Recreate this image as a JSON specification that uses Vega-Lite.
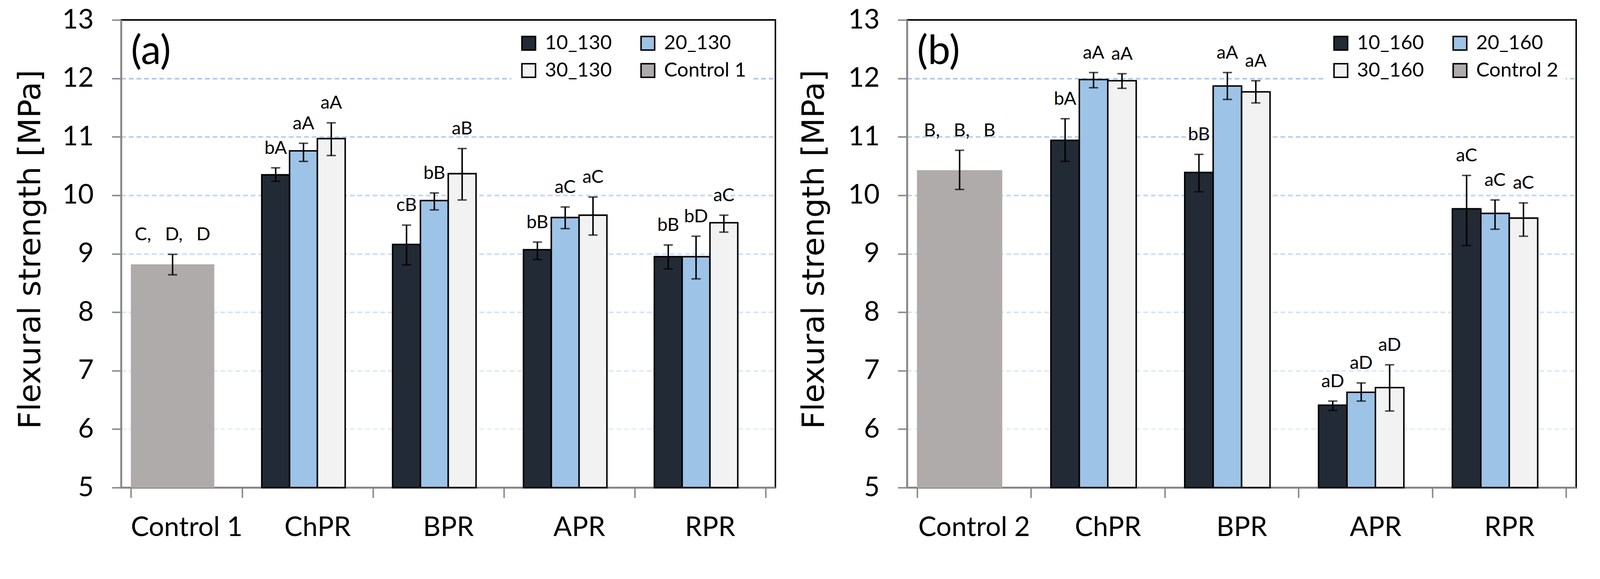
{
  "$schema": "https://vega.github.io/schema/vega-lite/v6.json",
  "background": "white",
  "padding": {"left": 37, "top": 14, "right": 0, "bottom": 0},
  "config": {
    "view": {"stroke": "#000000", "strokeWidth": 3.8},
    "font": "Lato"
  },
  "datasets": {
    "a": [
      {"g": "Control 1", "s": "Control 1", "v": 8.82, "lo": 8.64, "hi": 8.99, "lab": "C,\u2003D,\u2003D"},
      {"g": "ChPR", "s": "10_130", "v": 10.35, "lo": 10.24, "hi": 10.47, "lab": "bA"},
      {"g": "ChPR", "s": "20_130", "v": 10.76, "lo": 10.58, "hi": 10.89, "lab": "aA"},
      {"g": "ChPR", "s": "30_130", "v": 10.97, "lo": 10.68, "hi": 11.24, "lab": "aA"},
      {"g": "BPR", "s": "10_130", "v": 9.16, "lo": 8.81, "hi": 9.49, "lab": "cB"},
      {"g": "BPR", "s": "20_130", "v": 9.91, "lo": 9.75, "hi": 10.04, "lab": "bB"},
      {"g": "BPR", "s": "30_130", "v": 10.37, "lo": 9.92, "hi": 10.80, "lab": "aB"},
      {"g": "APR", "s": "10_130", "v": 9.07, "lo": 8.90, "hi": 9.20, "lab": "bB"},
      {"g": "APR", "s": "20_130", "v": 9.62, "lo": 9.43, "hi": 9.80, "lab": "aC"},
      {"g": "APR", "s": "30_130", "v": 9.66, "lo": 9.32, "hi": 9.97, "lab": "aC"},
      {"g": "RPR", "s": "10_130", "v": 8.95, "lo": 8.74, "hi": 9.15, "lab": "bB"},
      {"g": "RPR", "s": "20_130", "v": 8.95, "lo": 8.57, "hi": 9.30, "lab": "bD"},
      {"g": "RPR", "s": "30_130", "v": 9.53, "lo": 9.37, "hi": 9.66, "lab": "aC"}
    ],
    "b": [
      {"g": "Control 2", "s": "Control 2", "v": 10.43, "lo": 10.10, "hi": 10.77, "lab": "B,\u2003B,\u2003B"},
      {"g": "ChPR", "s": "10_160", "v": 10.94, "lo": 10.58, "hi": 11.31, "lab": "bA"},
      {"g": "ChPR", "s": "20_160", "v": 11.98, "lo": 11.84, "hi": 12.10, "lab": "aA"},
      {"g": "ChPR", "s": "30_160", "v": 11.96, "lo": 11.83, "hi": 12.08, "lab": "aA"},
      {"g": "BPR", "s": "10_160", "v": 10.39, "lo": 10.06, "hi": 10.70, "lab": "bB"},
      {"g": "BPR", "s": "20_160", "v": 11.87, "lo": 11.64, "hi": 12.10, "lab": "aA"},
      {"g": "BPR", "s": "30_160", "v": 11.77, "lo": 11.58, "hi": 11.96, "lab": "aA"},
      {"g": "APR", "s": "10_160", "v": 6.41, "lo": 6.32, "hi": 6.48, "lab": "aD"},
      {"g": "APR", "s": "20_160", "v": 6.63, "lo": 6.48, "hi": 6.79, "lab": "aD"},
      {"g": "APR", "s": "30_160", "v": 6.71, "lo": 6.31, "hi": 7.10, "lab": "aD"},
      {"g": "RPR", "s": "10_160", "v": 9.77, "lo": 9.14, "hi": 10.34, "lab": "aC"},
      {"g": "RPR", "s": "20_160", "v": 9.69, "lo": 9.42, "hi": 9.92, "lab": "aC"},
      {"g": "RPR", "s": "30_160", "v": 9.61, "lo": 9.30, "hi": 9.87, "lab": "aC"}
    ]
  },
  "spacing": 56,
  "resolve": {"scale": {"fill": "independent", "xOffset": "independent", "x": "independent", "y": "independent"}, "legend": {"fill": "independent"}},
  "hconcat": [
    {
      "width": 1675,
      "height": 1197,
      "data": {"name": "a"},
      "encoding": {
        "x": {"field": "g", "type": "nominal", "sort": ["Control 1", "ChPR", "BPR", "APR", "RPR"], "scale": {"paddingInner": 0.15, "paddingOuter": 0.075}, "title": null,
          "axis": {"labelAngle": 0, "labelFont": "Lato", "labelFontSize": 69.5, "labelColor": "#000000", "labelLimit": 2000,
            "labelPadding": 97, "labelBaseline": "alphabetic", "tickBand": "extent", "tickSize": 26, "tickWidth": 3.8,
            "tickColor": "#898989", "domainColor": "#898989", "domainWidth": 4.7, "grid": false}},
        "y": {"field": "v", "type": "quantitative", "stack": null, "scale": {"domain": [5, 13], "zero": false, "nice": false}, "title": "Flexural strength [MPa]",
          "axis": {"values": [5, 6, 7, 8, 9, 10, 11, 12, 13], "format": "d", "labelFont": "Lato", "labelFontSize": 69.5, "labelColor": "#000000",
            "labelPadding": 47, "labelFlush": false, "labelOverlap": false, "tickSize": 23.5, "tickWidth": 3.8, "tickColor": "#898989",
            "domainColor": "#898989", "domainWidth": 4.7, "grid": true, "gridDash": [12, 7.5], "gridWidth": 3.8,
            "titleFont": "DejaVu Sans", "titleFontSize": 79, "titleFontWeight": "normal", "titleColor": "#000000",
            "titleBaseline": "alphabetic", "titleY": 587, "titleX": -208,
            "gridOpacity": {"condition": {"test": "datum.value == 5 || datum.value == 13", "value": 0}, "value": 1},
            "gridColor": {"condition": [
              {"test": "datum.value >= 12", "value": "#A6C8F2"},
              {"test": "datum.value >= 11", "value": "#B0CEF3"},
              {"test": "datum.value >= 10", "value": "#BCD6F6"},
              {"test": "datum.value >= 9", "value": "#C7DDF7"},
              {"test": "datum.value >= 8", "value": "#D1E3F8"},
              {"test": "datum.value >= 7", "value": "#D9E8F9"}], "value": "#E2ECFA"}}}
      },
      "layer": [
        {
          "transform": [{"filter": "datum.s != 'Control 1'"}],
          "encoding": {"xOffset": {"field": "s", "type": "nominal", "scale": {"domain": ["10_130", "20_130", "30_130", "Control 1"], "paddingInner": 0, "paddingOuter": 0}}},
          "layer": [
            {"mark": {"type": "bar", "stroke": "#000000", "strokeWidth": 3.8},
             "encoding": {
               "fill": {"field": "s", "type": "nominal", "scale": {"domain": ["10_130", "20_130", "30_130", "Control 1"], "range": ["#222A35", "#9DC3E6", "#F2F2F2", "#AFABAB"]},
                 "legend": {"orient": "none", "legendX": 999, "legendY": 15, "columns": 2, "direction": "horizontal", "title": null, "symbolType": "square", "symbolSize": 1211, "symbolStrokeWidth": 3.8, "labelFont": "Lato", "labelFontSize": 51, "labelColor": "#000000", "labelLimit": 2000, "labelOffset": 16, "columnPadding": 66, "rowPadding": 18, "fillColor": "white", "padding": 19, "symbolOpacity": 1,
                   "encode": {"symbols": {"update": {"stroke": {"signal": "datum.value === 'Control 1' ? '#AFABAB' : '#000000'"}, "strokeWidth": {"value": 3.8}}}}}}
             }},
            {"mark": {"type": "rule", "color": "#000000", "strokeWidth": 3.8},
             "encoding": {"y": {"field": "lo", "type": "quantitative", "title": "Flexural strength [MPa]"}, "y2": {"field": "hi"}}},
            {"mark": {"type": "tick", "color": "#000000", "size": 23.5, "thickness": 3.8},
             "encoding": {"y": {"field": "lo", "type": "quantitative", "title": "Flexural strength [MPa]"}}},
            {"mark": {"type": "tick", "color": "#000000", "size": 23.5, "thickness": 3.8},
             "encoding": {"y": {"field": "hi", "type": "quantitative", "title": "Flexural strength [MPa]"}}},
            {"mark": {"type": "text", "baseline": "alphabetic", "dy": -36, "font": "Lato", "fontSize": 47, "color": "#000000"},
             "encoding": {"y": {"field": "hi", "type": "quantitative", "title": "Flexural strength [MPa]"}, "text": {"field": "lab"}}}
          ]
        },
        {
          "transform": [{"filter": "datum.s == 'Control 1'"}],
          "layer": [
            {"mark": {"type": "bar", "width": {"band": 0.75}, "xOffset": -35.7, "strokeWidth": 0},
             "encoding": {"fill": {"field": "s", "type": "nominal"}}},
            {"mark": {"type": "rule", "color": "#000000", "strokeWidth": 3.8, "xOffset": -35.7},
             "encoding": {"y": {"field": "lo", "type": "quantitative", "title": "Flexural strength [MPa]"}, "y2": {"field": "hi"}}},
            {"mark": {"type": "tick", "color": "#000000", "size": 23.5, "thickness": 3.8, "xOffset": -35.7},
             "encoding": {"y": {"field": "lo", "type": "quantitative", "title": "Flexural strength [MPa]"}}},
            {"mark": {"type": "tick", "color": "#000000", "size": 23.5, "thickness": 3.8, "xOffset": -35.7},
             "encoding": {"y": {"field": "hi", "type": "quantitative", "title": "Flexural strength [MPa]"}}},
            {"mark": {"type": "text", "baseline": "alphabetic", "dy": -36, "xOffset": -35.7, "font": "Lato", "fontSize": 47, "color": "#000000"},
             "encoding": {"y": {"field": "hi", "type": "quantitative", "title": "Flexural strength [MPa]"}, "text": {"field": "lab"}}},
            {"mark": {"type": "text", "text": "(a)", "align": "left", "baseline": "middle", "font": "Lato", "fontSize": 103, "color": "#000000"},
             "encoding": {
               "x": {"field": "g", "type": "nominal", "bandPosition": 0},
               "y": {"datum": 12.45, "type": "quantitative"}
             }}
          ]
        }
      ]
    },
    {
      "width": 1713,
      "height": 1197,
      "data": {"name": "b"},
      "encoding": {
        "x": {"field": "g", "type": "nominal", "sort": ["Control 2", "ChPR", "BPR", "APR", "RPR"], "scale": {"paddingInner": 0.15, "paddingOuter": 0.075}, "title": null,
          "axis": {"labelAngle": 0, "labelFont": "Lato", "labelFontSize": 69.5, "labelColor": "#000000", "labelLimit": 2000,
            "labelPadding": 97, "labelBaseline": "alphabetic", "tickBand": "extent", "tickSize": 26, "tickWidth": 3.8,
            "tickColor": "#898989", "domainColor": "#898989", "domainWidth": 4.7, "grid": false}},
        "y": {"field": "v", "type": "quantitative", "stack": null, "scale": {"domain": [5, 13], "zero": false, "nice": false}, "title": "Flexural strength [MPa]",
          "axis": {"values": [5, 6, 7, 8, 9, 10, 11, 12, 13], "format": "d", "labelFont": "Lato", "labelFontSize": 69.5, "labelColor": "#000000",
            "labelPadding": 47, "labelFlush": false, "labelOverlap": false, "tickSize": 23.5, "tickWidth": 3.8, "tickColor": "#898989",
            "domainColor": "#898989", "domainWidth": 4.7, "grid": true, "gridDash": [12, 7.5], "gridWidth": 3.8,
            "titleFont": "DejaVu Sans", "titleFontSize": 79, "titleFontWeight": "normal", "titleColor": "#000000",
            "titleBaseline": "alphabetic", "titleY": 587, "titleX": -214,
            "gridOpacity": {"condition": {"test": "datum.value == 5 || datum.value == 13", "value": 0}, "value": 1},
            "gridColor": {"condition": [
              {"test": "datum.value >= 12", "value": "#A6C8F2"},
              {"test": "datum.value >= 11", "value": "#B0CEF3"},
              {"test": "datum.value >= 10", "value": "#BCD6F6"},
              {"test": "datum.value >= 9", "value": "#C7DDF7"},
              {"test": "datum.value >= 8", "value": "#D1E3F8"},
              {"test": "datum.value >= 7", "value": "#D9E8F9"}], "value": "#E2ECFA"}}}
      },
      "layer": [
        {
          "transform": [{"filter": "datum.s != 'Control 2'"}],
          "encoding": {"xOffset": {"field": "s", "type": "nominal", "scale": {"domain": ["10_160", "20_160", "30_160", "Control 2"], "paddingInner": 0, "paddingOuter": 0}}},
          "layer": [
            {"mark": {"type": "bar", "stroke": "#000000", "strokeWidth": 3.8},
             "encoding": {
               "fill": {"field": "s", "type": "nominal", "scale": {"domain": ["10_160", "20_160", "30_160", "Control 2"], "range": ["#222A35", "#9DC3E6", "#F2F2F2", "#AFABAB"]},
                 "legend": {"orient": "none", "legendX": 1066, "legendY": 15, "columns": 2, "direction": "horizontal", "title": null, "symbolType": "square", "symbolSize": 1211, "symbolStrokeWidth": 3.8, "labelFont": "Lato", "labelFontSize": 51, "labelColor": "#000000", "labelLimit": 2000, "labelOffset": 16, "columnPadding": 66, "rowPadding": 18, "fillColor": "white", "padding": 19, "symbolOpacity": 1,
                   "encode": {"symbols": {"update": {"stroke": {"signal": "datum.value === 'Control 2' ? '#AFABAB' : '#000000'"}, "strokeWidth": {"value": 3.8}}}}}}
             }},
            {"mark": {"type": "rule", "color": "#000000", "strokeWidth": 3.8},
             "encoding": {"y": {"field": "lo", "type": "quantitative", "title": "Flexural strength [MPa]"}, "y2": {"field": "hi"}}},
            {"mark": {"type": "tick", "color": "#000000", "size": 23.5, "thickness": 3.8},
             "encoding": {"y": {"field": "lo", "type": "quantitative", "title": "Flexural strength [MPa]"}}},
            {"mark": {"type": "tick", "color": "#000000", "size": 23.5, "thickness": 3.8},
             "encoding": {"y": {"field": "hi", "type": "quantitative", "title": "Flexural strength [MPa]"}}},
            {"mark": {"type": "text", "baseline": "alphabetic", "dy": -36, "font": "Lato", "fontSize": 47, "color": "#000000"},
             "encoding": {"y": {"field": "hi", "type": "quantitative", "title": "Flexural strength [MPa]"}, "text": {"field": "lab"}}}
          ]
        },
        {
          "transform": [{"filter": "datum.s == 'Control 2'"}],
          "layer": [
            {"mark": {"type": "bar", "width": {"band": 0.75}, "xOffset": -36.7, "strokeWidth": 0},
             "encoding": {"fill": {"field": "s", "type": "nominal"}}},
            {"mark": {"type": "rule", "color": "#000000", "strokeWidth": 3.8, "xOffset": -36.7},
             "encoding": {"y": {"field": "lo", "type": "quantitative", "title": "Flexural strength [MPa]"}, "y2": {"field": "hi"}}},
            {"mark": {"type": "tick", "color": "#000000", "size": 23.5, "thickness": 3.8, "xOffset": -36.7},
             "encoding": {"y": {"field": "lo", "type": "quantitative", "title": "Flexural strength [MPa]"}}},
            {"mark": {"type": "tick", "color": "#000000", "size": 23.5, "thickness": 3.8, "xOffset": -36.7},
             "encoding": {"y": {"field": "hi", "type": "quantitative", "title": "Flexural strength [MPa]"}}},
            {"mark": {"type": "text", "baseline": "alphabetic", "dy": -36, "xOffset": -36.7, "font": "Lato", "fontSize": 47, "color": "#000000"},
             "encoding": {"y": {"field": "hi", "type": "quantitative", "title": "Flexural strength [MPa]"}, "text": {"field": "lab"}}},
            {"mark": {"type": "text", "text": "(b)", "align": "left", "baseline": "middle", "font": "Lato", "fontSize": 103, "color": "#000000"},
             "encoding": {
               "x": {"field": "g", "type": "nominal", "bandPosition": 0},
               "y": {"datum": 12.45, "type": "quantitative"}
             }}
          ]
        }
      ]
    }
  ]
}
